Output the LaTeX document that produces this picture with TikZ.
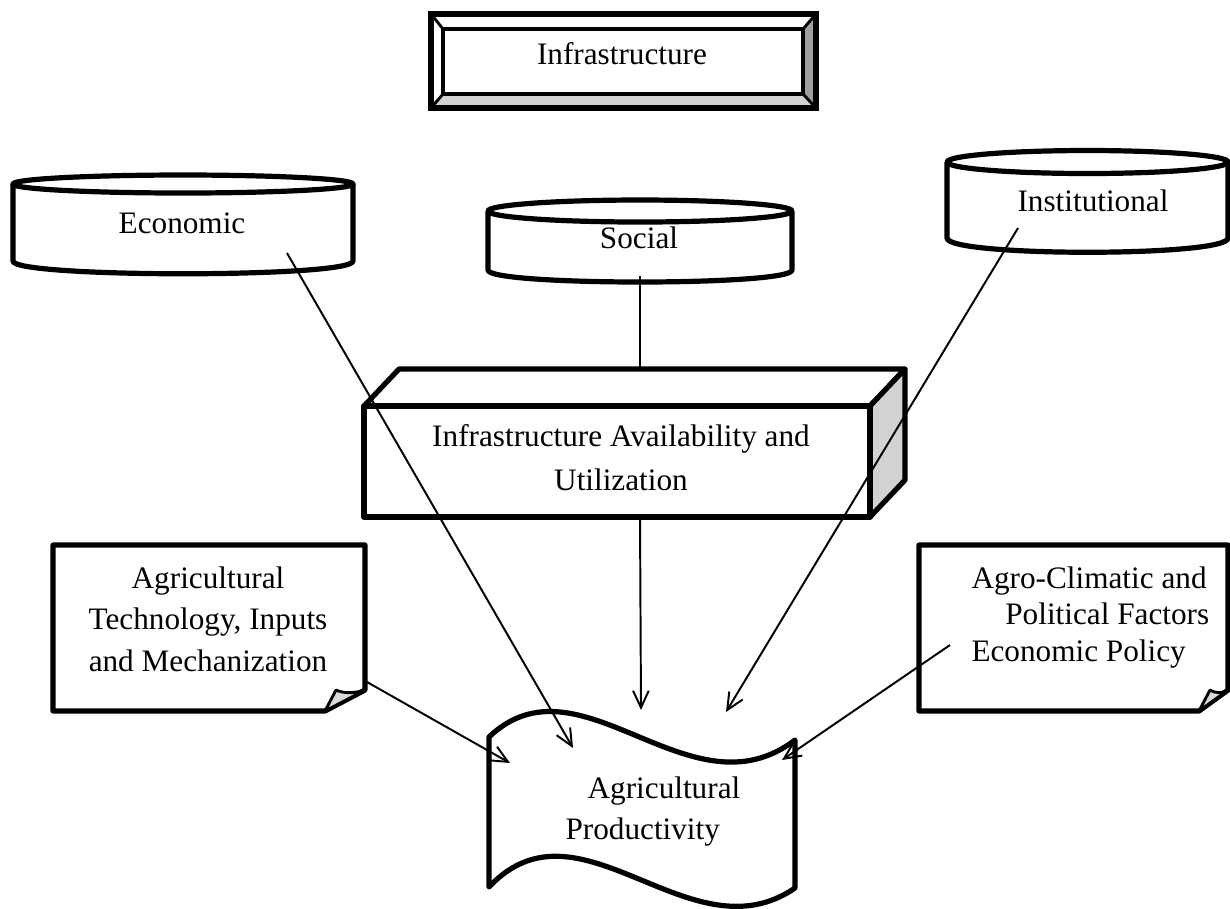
\documentclass[tikz,border=0pt]{standalone}
\usepackage{fontspec}
\setmainfont{Liberation Serif}
\usepackage{tikz}
\usetikzlibrary{arrows.meta}
\tikzset{
  >={Straight Barb[length=6.5pt,width=6pt]},
}
\tikzstyle{link}=[line width=0.75pt,->]
\tikzstyle{frame}=[line width=2pt,line join=round]
\tikzstyle{fold}=[line width=1.1pt,line join=round,fill=gray!30]
\tikzstyle{every node}=[font=\fontsize{12}{16}\selectfont]
\tikzstyle{label}=[inner sep=0pt]

\begin{document}
\begin{tikzpicture}[x=0.0135cm,y=-0.0135cm]
  \useasboundingbox (0,0) rectangle (1230,908);
  % bevelled button
  \fill[gray!75] (816,14)--(803,29)--(803,94)--(816,108)--cycle;
  \fill[gray!35] (431,108)--(443,94)--(803,94)--(816,108)--cycle;
  \draw[line width=1.1pt] (431,14)--(443,29) (816,14)--(803,29)
    (431,108)--(443,94) (816,108)--(803,94);
  \draw[line width=2.2pt] (431,14) rectangle (816,108);
  \draw[line width=1.7pt] (443,29) rectangle (803,94);
  \node[label] (infra) at (622,54) {Infrastructure};

  % cylinders
  \draw[frame,fill=white] (13,184) -- (13,261) .. controls (13,278) and (353,278) .. (353,261) -- (353,184);
  \draw[frame] (183,184) ellipse [x radius=170, y radius=9];
  \node[label] (econ) at (182,223) {Economic};
  \draw[frame,fill=white] (488,211) -- (488,270) .. controls (488,286) and (792,286) .. (792,270) -- (792,211);
  \draw[frame] (640,211) ellipse [x radius=152, y radius=11];
  \node[label] (social) at (639,238) {Social};
  \draw[frame,fill=white] (947,162) -- (947,238) .. controls (947,257) and (1228,257) .. (1228,238) -- (1228,162);
  \draw[frame] (1087.5,162) ellipse [x radius=140.5, y radius=11.5];
  \node[label] (inst) at (1093,201) {Institutional};

  % box
  \draw[frame,fill=white] (364,406) -- (399,369) -- (905,369) -- (870,406) -- cycle;
  \draw[frame,fill=gray!35] (870,406) -- (905,369) -- (905,480) -- (870,517) -- cycle;
  \draw[frame,fill=white] (364,406) rectangle (870,517);
  \node[label,anchor=north,align=center,font=\fontsize{12}{17}\selectfont] (avail) at (621,424)
    {Infrastructure Availability and\\Utilization};

  % notes
  \draw[frame,fill=white] (325,711) -- (53,711) -- (53,545) -- (365,545) -- (365,690) -- cycle;
  \draw[fold] (325,711) -- (336,690) .. controls (345,694) and (355,693) .. (365,690) -- cycle;
  \node[label,anchor=north,align=center] (tech) at (208,566)
    {Agricultural\\Technology, Inputs\\and Mechanization};
  \draw[frame,fill=white] (1199,711) -- (919,711) -- (919,545) -- (1228,545) -- (1228,690) -- cycle;
  \draw[fold] (1199,711) -- (1210,690) .. controls (1217,694) and (1223,693) .. (1228,690) -- cycle;
  \node[label,anchor=north west,align=left,font=\fontsize{12}{14}\selectfont] (agro) at (971,566)
    {Agro-Climatic and\\\hspace*{13pt}Political Factors\\Economic Policy};

  % banner
  \draw[frame,fill=white] (489,737) .. controls (580,650) and (690,820) .. (795,740) -- (795,888)
    .. controls (690,960) and (580,790) .. (489,887) -- cycle;
  \node[label,anchor=north west,align=left] (prod) at (565,776)
    {\hspace*{8.5pt}Agricultural\\Productivity};

  % connectors
  \coordinate (social-out) at (640,276);
  \coordinate (avail-top) at (640,369);
  \coordinate (avail-out) at (640,517);
  \coordinate (econ-out) at (287,253);
  \coordinate (inst-out) at (1018,228);
  \coordinate (tech-out) at (367,682);
  \coordinate (agro-out) at (950,645);
  \coordinate (prod-a) at (573,748);
  \coordinate (prod-b) at (641,710);
  \coordinate (prod-c) at (726,712);
  \coordinate (prod-d) at (510,763);
  \coordinate (prod-e) at (782,760);
  \draw[line width=0.75pt] (social-out) -- (avail-top);
  \draw[link] (econ-out) -- (prod-a);
  \draw[link] (avail-out) -- (prod-b);
  \draw[link] (inst-out) -- (prod-c);
  \draw[link] (tech-out) -- (prod-d);
  \draw[link] (agro-out) -- (prod-e);
\end{tikzpicture}
\end{document}
